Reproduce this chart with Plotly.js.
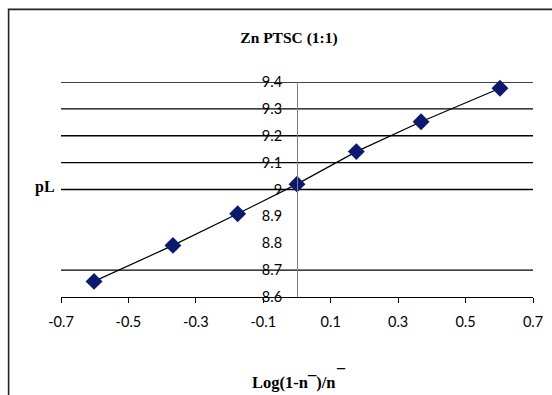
<!DOCTYPE html>
<html>
<head>
<meta charset="utf-8">
<script src="https://cdn.plot.ly/plotly-3.0.1.min.js"></script>
<style>html,body{margin:0;padding:0;background:#fff;}#chart{width:552px;height:395px;}</style>
</head>
<body>
<div id="chart"></div>
<script>
// Data
const xValues = [-0.602, -0.368, -0.176, 0.0, 0.176, 0.368, 0.602];
const pLValues = [8.658, 8.792, 8.91, 9.02, 9.141, 9.252, 9.377];
const xTickVals = [-0.7, -0.5, -0.3, -0.1, 0.1, 0.3, 0.5, 0.7];
const xTickText = ["-0.7", "-0.5", "-0.3", "-0.1", "0.1", "0.3", "0.5", "0.7"];
const yTickVals = [8.6, 8.7, 8.8, 8.9, 9.0, 9.1, 9.2, 9.3, 9.4];
const yTickText = ["8.6", "8.7", "8.8", "8.9", "9", "9.1", "9.2", "9.3", "9.4"];
const gridValues = [8.7, 9.0, 9.1, 9.2, 9.3, 9.4];

const serif = "Liberation Serif, Times New Roman, serif";
const sans = "Lato, Liberation Sans, sans-serif";

const trace = {
  x: xValues,
  y: pLValues,
  type: "scatter",
  mode: "lines+markers",
  line: {color: "#000000", width: 1.2},
  marker: {symbol: "diamond", size: 13, color: "#0b1a6e"},
  hoverinfo: "skip",
  cliponaxis: false
};

const shapes = gridValues.map(v => ({
  type: "line", xref: "paper", yref: "y", x0: 0, x1: 1, y0: v, y1: v,
  line: {color: "#000000", width: 1.3}, layer: "below"
}));
shapes.push({
  type: "rect", xref: "paper", yref: "paper",
  x0: -0.111, x1: 1.2, y0: -0.6, y1: 1.338,
  line: {color: "#222222", width: 1.6}, fillcolor: "rgba(0,0,0,0)", layer: "below"
});

const layout = {
  width: 552, height: 395,
  margin: {l: 61, r: 19, t: 82, b: 98, pad: 0},
  paper_bgcolor: "#ffffff", plot_bgcolor: "#ffffff",
  showlegend: false,
  title: {
    text: "<b>Zn PTSC (1:1)</b>",
    font: {family: serif, size: 15.5, color: "#000"},
    xref: "paper", x: 0.483, xanchor: "center",
    yref: "container", y: 0.906, yanchor: "middle"
  },
  xaxis: {
    range: [-0.7, 0.7], tickvals: xTickVals, ticktext: xTickText,
    showgrid: false, zeroline: false,
    showline: true, linecolor: "#000", linewidth: 1.3,
    ticks: "outside", ticklen: 5, tickcolor: "#000", tickwidth: 1,
    ticklabelstandoff: 6,
    tickfont: {family: sans, size: 14.5, color: "#000"}
  },
  yaxis: {
    range: [8.6, 9.4], tickvals: yTickVals, ticktext: yTickText,
    anchor: "free", position: 0.5,
    showgrid: false, zeroline: false,
    showline: true, linecolor: "#808080", linewidth: 1,
    ticks: "", ticklabelstandoff: 12,
    tickfont: {family: sans, size: 14.5, color: "#000"}
  },
  shapes: shapes,
  annotations: [
    {text: "<b>pL</b>", xref: "paper", yref: "paper", x: -0.008, y: 0.51,
     xanchor: "right", yanchor: "middle", showarrow: false,
     font: {family: serif, size: 16, color: "#000"}},
    {text: "<b>Log(1-n¯)/n</b>", xref: "paper", yref: "paper", x: 0.493, y: -0.398,
     xanchor: "center", yanchor: "middle", showarrow: false,
     font: {family: serif, size: 16.5, color: "#000"}},
    {text: "<b>–</b>", xref: "paper", yref: "paper", x: 0.594, y: -0.33,
     xanchor: "center", yanchor: "middle", showarrow: false,
     font: {family: serif, size: 16, color: "#000"}}
  ]
};

Plotly.newPlot("chart", [trace], layout, {displayModeBar: false, staticPlot: true});
</script>
</body>
</html>
